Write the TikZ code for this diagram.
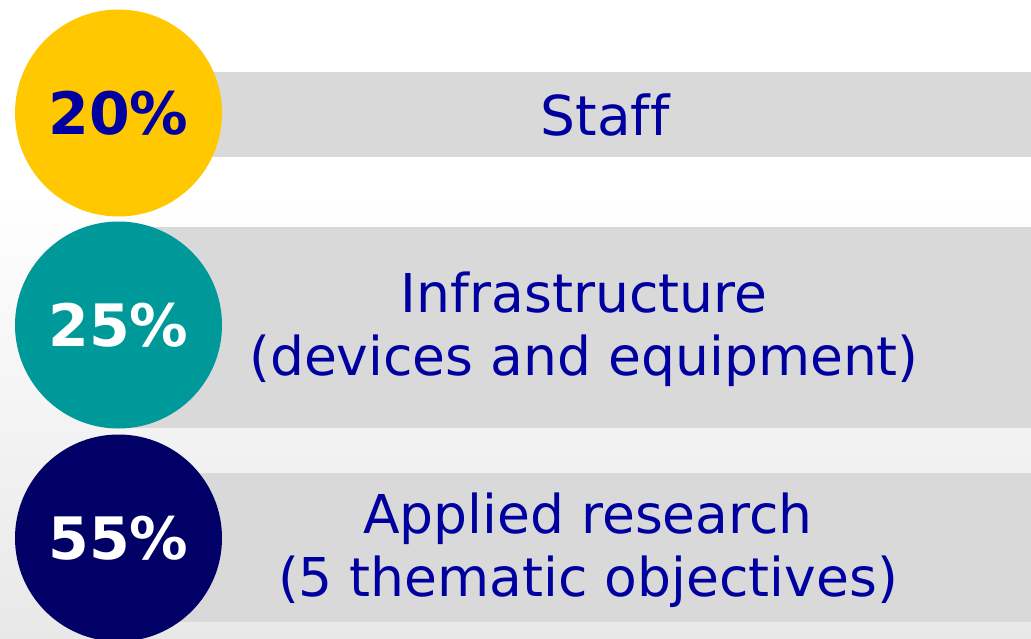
\documentclass[tikz,border=0pt]{standalone}
\usepackage{fontspec}
\setmainfont{DejaVu Sans}[Ligatures=CommonOff]
\usetikzlibrary{positioning}

\definecolor{staffyellow}{RGB}{255,200,0}
\definecolor{infrateal}{RGB}{0,153,153}
\definecolor{researchnavy}{RGB}{0,0,102}
\definecolor{labelblue}{RGB}{0,0,160}
\definecolor{bargray}{RGB}{217,217,217}

\begin{document}
\begin{tikzpicture}
  [
    x=1pt, y=-1pt,
    pct/.style  = {circle, minimum size=207pt, inner sep=0pt, text=white,
                   font=\fontsize{58.5}{70}\selectfont\bfseries},
    bar/.style  = {rectangle, fill=bargray, minimum width=913pt, inner sep=0pt, anchor=west},
    label/.style = {align=center, text=labelblue, font=\fontsize{53.5}{63}\selectfont},
  ]

  \useasboundingbox (0,0) rectangle (1031,638);

  % faded background
  \shade[top color=white, bottom color=black!9] (0,190) rectangle (1031,638);

  % the bars
  \node (staffbar) at (118,114.5) [bar, minimum height=85pt] {};
  \node (infrabar) at (118,327) [bar, minimum height=201pt] {};
  \node (researchbar) at (118,547.5) [bar, minimum height=149pt] {};

  % the circles
  \node (staffpct) at (118.5,113) [pct, fill=staffyellow, text=labelblue] {20\%};
  \node (infrapct) at (118.5,325) [pct, fill=infrateal] {25\%};
  \node (researchpct) at (118.5,538) [pct, fill=researchnavy] {55\%};

  % the texts
  \node (staff) at (605,135) [label, anchor=base, font=\fontsize{55}{63}\selectfont] {Staff};
  \node (infra) at (584,329.5) [label] {Infrastructure\\(devices and equipment)};
  \node (research) at (588,550.5) [label] {Applied research\\(5 thematic objectives)};

\end{tikzpicture}
\end{document}
